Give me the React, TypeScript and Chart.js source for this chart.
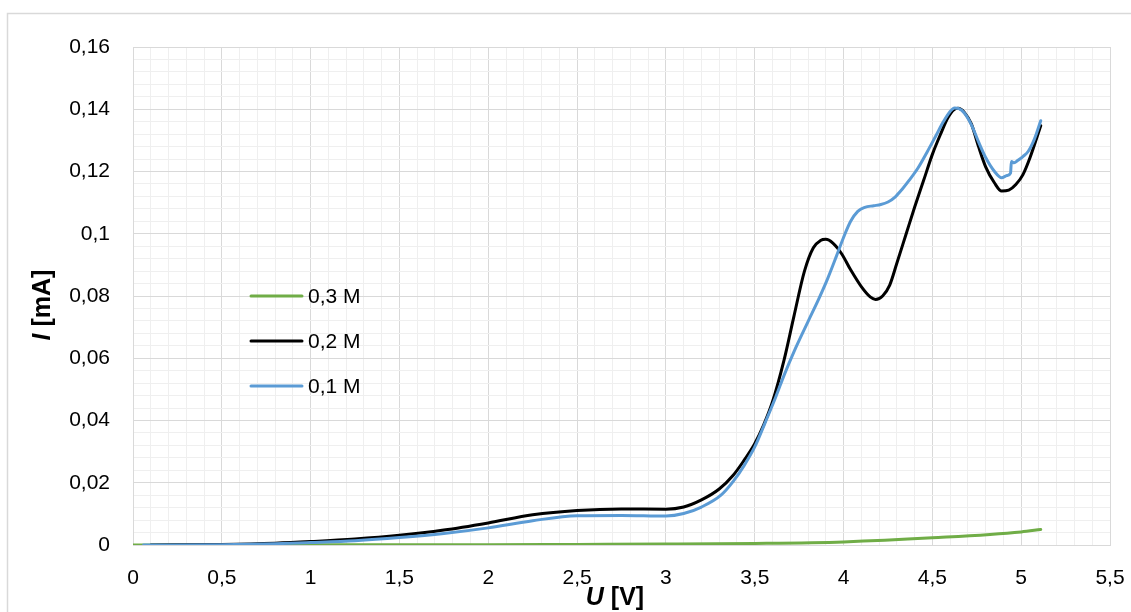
import React, { useEffect, useRef } from "react";
import { Chart, registerables } from "chart.js";

Chart.register(...registerables);

// ---- Data (U in V, I in mA) ----
const seriesLabels = ["0,3 M", "0,2 M", "0,1 M"];
const seriesColors = ["#70ad47", "#000000", "#5b9bd5"];

const u03 = [0, 0.5, 1, 1.5, 2, 2.5, 3, 3.5, 4, 4.5, 5, 5.11];
const i03 = [0, 0, 0.00005, 0.0001, 0.0001, 0.0002, 0.0003, 0.0005, 0.001, 0.0023, 0.0042, 0.005];

const u02 = [
  0.1, 0.5, 0.8, 1.0, 1.25, 1.5, 1.75, 2.0, 2.25, 2.5, 2.75, 3.0, 3.1, 3.2, 3.3, 3.38, 3.44,
  3.5, 3.55, 3.6, 3.665, 3.72, 3.78, 3.83, 3.87, 3.9, 3.94, 3.99, 4.04, 4.1, 4.15, 4.18, 4.22,
  4.26, 4.3, 4.35, 4.4, 4.45, 4.5, 4.55, 4.585, 4.62, 4.645, 4.68, 4.72, 4.76, 4.8, 4.85,
  4.89, 4.93, 4.97, 5.01, 5.05, 5.11,
];
const i02 = [
  0, 0.0002, 0.0006, 0.0011, 0.0019, 0.0031, 0.0048, 0.0071, 0.0097, 0.0111, 0.0116, 0.0115,
  0.0122, 0.0145, 0.018, 0.0225, 0.0272, 0.0325, 0.0385, 0.046, 0.0594, 0.0733, 0.088, 0.0955,
  0.0978, 0.0982, 0.097, 0.0935, 0.0884, 0.083, 0.0797, 0.0789, 0.08, 0.0835, 0.0905, 0.0995,
  0.1085, 0.117, 0.1255, 0.1325, 0.137, 0.1398, 0.1403, 0.139, 0.1352, 0.128, 0.1215, 0.1163,
  0.1137, 0.114, 0.1158, 0.119, 0.1245, 0.1347,
];

const u01 = [
  0.06, 0.5, 0.8, 1.0, 1.25, 1.5, 1.75, 2.0, 2.25, 2.5, 2.75, 3.0, 3.1, 3.2, 3.31, 3.38, 3.44,
  3.5, 3.56, 3.62, 3.665, 3.72, 3.8, 3.86, 3.91, 3.96, 4.0, 4.04, 4.08, 4.12, 4.17, 4.21, 4.25,
  4.29, 4.33, 4.37, 4.42, 4.47, 4.52, 4.56, 4.6, 4.625, 4.65, 4.68, 4.72, 4.76, 4.8, 4.85,
  4.89, 4.92, 4.94, 4.945, 4.96, 4.98, 5.01, 5.04, 5.075, 5.11,
];
const i01 = [
  0, 0.0001, 0.0004, 0.0008, 0.0014, 0.0024, 0.0037, 0.0055, 0.0078, 0.0094, 0.0095, 0.0093,
  0.0101, 0.0122, 0.016, 0.0205, 0.0255, 0.0315, 0.0395, 0.0478, 0.0545, 0.062, 0.0718, 0.079,
  0.0855, 0.0928, 0.0988, 0.104, 0.1072, 0.1085, 0.109, 0.1094, 0.1102, 0.1118, 0.1143, 0.1172,
  0.1212, 0.1262, 0.1315, 0.1358, 0.1393, 0.1404, 0.1402, 0.1388, 0.135, 0.1295, 0.1245, 0.12,
  0.118, 0.1187, 0.1195, 0.1232, 0.1228, 0.1235, 0.1248, 0.1265, 0.1305, 0.1363,
];

const xMin = 0, xMax = 5.5, xMajor = 0.5, xMinor = 0.1;
const yMin = 0, yMax = 0.16, yMajor = 0.02, yMinor = 0.004;
const xTitleMain = "U";
const xTitleUnit = " [V]";
const yTitleMain = "I";
const yTitleUnit = " [mA]";

const FONT = '"Liberation Sans", Arial, sans-serif';

const isMult = (v: number, s: number) => Math.abs(v / s - Math.round(v / s)) < 1e-6;
const fmt = (v: number) => String(parseFloat(v.toFixed(3))).replace(".", ",");

const pairs = (xs: number[], ys: number[]) => xs.map((x, k) => ({ x, y: ys[k] }));

function drawMixed(ctx: CanvasRenderingContext2D, parts: { t: string; f: string }[], cx: number, cy: number) {
  let total = 0;
  const widths = parts.map((p) => {
    ctx.font = p.f;
    const w = ctx.measureText(p.t).width;
    total += w;
    return w;
  });
  let x = cx - total / 2;
  parts.forEach((p, k) => {
    ctx.font = p.f;
    ctx.fillText(p.t, x, cy);
    x += widths[k];
  });
}

const decorPlugin = {
  id: "decor",
  beforeDraw(chart: any) {
    const ctx = chart.ctx as CanvasRenderingContext2D;
    ctx.save();
    ctx.fillStyle = "#ffffff";
    ctx.fillRect(0, 0, chart.width, chart.height);
    ctx.strokeStyle = "#d9d9d9";
    ctx.lineWidth = 1.5;
    ctx.strokeRect(7.5, 13.5, chart.width + 20, chart.height + 20);
    ctx.restore();
  },
  afterDraw(chart: any) {
    const ctx = chart.ctx as CanvasRenderingContext2D;
    ctx.save();
    // legend
    seriesLabels.forEach((lab, k) => {
      const y = 296 + k * 45;
      ctx.strokeStyle = seriesColors[k];
      ctx.lineWidth = 3;
      ctx.lineCap = "round";
      ctx.beginPath();
      ctx.moveTo(251, y);
      ctx.lineTo(302, y);
      ctx.stroke();
      ctx.fillStyle = "#000";
      ctx.font = `21px ${FONT}`;
      ctx.textBaseline = "middle";
      ctx.textAlign = "left";
      ctx.fillText(lab, 308, y + 1);
    });
    // x title
    ctx.fillStyle = "#000";
    ctx.textBaseline = "alphabetic";
    ctx.textAlign = "left";
    drawMixed(
      ctx,
      [
        { t: xTitleMain, f: `italic bold 25px ${FONT}` },
        { t: xTitleUnit, f: `bold 25px ${FONT}` },
      ],
      615,
      605
    );
    // y title
    ctx.translate(50, 305);
    ctx.rotate(-Math.PI / 2);
    drawMixed(
      ctx,
      [
        { t: yTitleMain, f: `italic bold 25px ${FONT}` },
        { t: yTitleUnit, f: `bold 25px ${FONT}` },
      ],
      0,
      0
    );
    ctx.restore();
  },
};

export default function App() {
  const ref = useRef<HTMLCanvasElement>(null);
  useEffect(() => {
    if (!ref.current) return;
    const chart = new Chart(ref.current, {
      type: "scatter",
      data: {
        datasets: [
          { label: seriesLabels[0], data: pairs(u03, i03), borderColor: seriesColors[0], order: 3 },
          { label: seriesLabels[1], data: pairs(u02, i02), borderColor: seriesColors[1], order: 2 },
          { label: seriesLabels[2], data: pairs(u01, i01), borderColor: seriesColors[2], order: 1 },
        ].map((d) => ({
          ...d,
          showLine: true,
          borderWidth: 3,
          pointRadius: 0,
          pointHoverRadius: 0,
          cubicInterpolationMode: "monotone" as const,
          borderJoinStyle: "round" as const,
          borderCapStyle: "round" as const,
          backgroundColor: d.borderColor,
          fill: false,
        })),
      },
      options: {
        animation: false,
        responsive: false,
        events: [],
        layout: { padding: { left: 0, right: 21, top: 47, bottom: 0 } },
        plugins: { legend: { display: false }, tooltip: { enabled: false } },
        scales: {
          x: {
            type: "linear",
            position: "bottom",
            min: xMin,
            max: xMax,
            afterFit: (s: any) => {
              s.height = 67;
              s.paddingLeft = 0;
              s.paddingRight = 0;
            },
            ticks: {
              stepSize: xMinor,
              autoSkip: false,
              maxRotation: 0,
              padding: 21,
              color: "#000",
              font: { family: FONT, size: 21 },
              callback: (v: any) => (isMult(Number(v), xMajor) ? fmt(Number(v)) : ""),
            },
            grid: {
              drawTicks: false,
              lineWidth: 1,
              color: (c: any) => (isMult(c.tick?.value ?? 0, xMajor) ? "#d9d9d9" : "#efefef"),
            },
            border: { color: "#d9d9d9", width: 1 },
          },
          y: {
            type: "linear",
            position: "left",
            min: yMin,
            max: yMax,
            afterFit: (s: any) => {
              s.width = 133;
              s.paddingTop = 0;
              s.paddingBottom = 0;
            },
            ticks: {
              stepSize: yMinor,
              autoSkip: false,
              padding: 23,
              color: "#000",
              font: { family: FONT, size: 21 },
              callback: (v: any) => (isMult(Number(v), yMajor) ? fmt(Number(v)) : ""),
            },
            grid: {
              drawTicks: false,
              lineWidth: 1,
              color: (c: any) => (isMult(c.tick?.value ?? 0, yMajor) ? "#d9d9d9" : "#efefef"),
            },
            border: { color: "#d9d9d9", width: 1 },
          },
        },
      },
      plugins: [decorPlugin],
    });
    return () => chart.destroy();
  }, []);
  return (
    <div style={{ position: "fixed", left: 0, top: 0, width: 1131, height: 612 }}>
      <canvas ref={ref} width={1131} height={612} style={{ display: "block" }} />
    </div>
  );
}
